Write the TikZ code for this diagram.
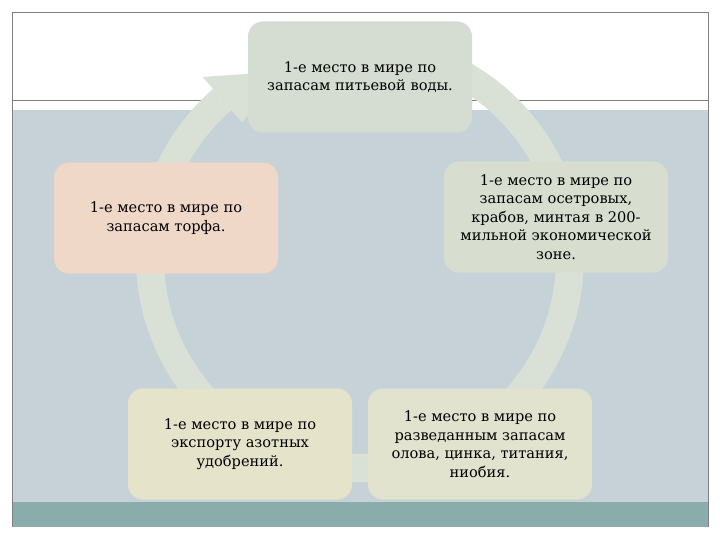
\documentclass[tikz,border=0pt]{standalone}
\usepackage{fontspec}
\setmainfont{DejaVu Serif}
\usetikzlibrary{calc}
\definecolor{bandc}{HTML}{C6D1D8}
\definecolor{tealc}{HTML}{8AADAB}
\definecolor{framec}{HTML}{808080}
\definecolor{ringc}{HTML}{D9E1D6}
\definecolor{topc}{HTML}{D5DDD2}
\definecolor{leftc}{HTML}{EFD8C8}
\definecolor{rightc}{HTML}{D8DECF}
\definecolor{blc}{HTML}{E6E3CB}
\definecolor{brc}{HTML}{E1E3CF}
\tikzset{
  infobox/.style={rounded corners=15pt, minimum width=224pt, minimum height=111pt,
    inner sep=0pt, align=center, font=\fontsize{14.6}{18.5}\selectfont, text=black},
  framestroke/.style={draw=framec, line width=0.8pt}
}
\begin{document}
\begin{tikzpicture}[x=1pt,y=-1pt]
\useasboundingbox (0,0) rectangle (720,540);
\fill[white] (0,0) rectangle (720,540);
\fill[bandc] (12,110) rectangle (708,502);
\fill[tealc] (12,502) rectangle (708,527);
\draw[framestroke] (12,100) -- (708,100);
\draw[framestroke] (12,527) -- (12,12) -- (708,12) -- (708,527);
% ring arrow
\coordinate (c) at (360,258);
\draw[ringc, line width=28pt] (c) ++(-85:210) arc[start angle=-85, end angle=229, radius=210];
\fill[ringc] ($(c)+(229:240)$) coordinate (w1) -- ($(c)+(249:200)$) coordinate (tip) -- ($(c)+(229:180)$) coordinate (w2) -- cycle;
% boxes
\node[infobox, fill=topc] (top) at (360,77) {1-е место в мире по\\запасам питьевой воды.};
\node[infobox, fill=leftc] (left) at (166,218) {1-е место в мире по\\запасам торфа.};
\node[infobox, fill=rightc] (right) at (556,217) {1-е место в мире по\\запасам осетровых,\\крабов, минтая в 200-\\мильной экономической\\зоне.};
\node[infobox, fill=blc] (bl) at (240,444) {1-е место в мире по\\экспорту азотных\\удобрений.};
\node[infobox, fill=brc] (br) at (480,444) {1-е место в мире по\\разведанным запасам\\олова, цинка, титания,\\ниобия.};
\end{tikzpicture}
\end{document}
